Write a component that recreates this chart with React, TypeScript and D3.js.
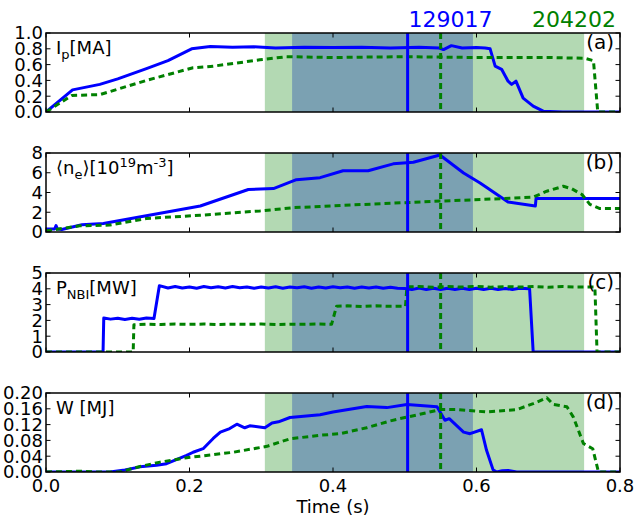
import React from "react";
import * as d3 from "d3";

// ---- figure geometry ----
const WIDTH = 634;
const HEIGHT = 519;
const X_LEFT = 46;
const X_RIGHT = 620;
const PANEL_TOPS = [33, 153, 273, 393];
const PANEL_H = 79;

// ---- shared annotations ----
const xTicks = [0, 0.2, 0.4, 0.6, 0.8];
const shotBlue = "129017";
const shotGreen = "204202";
const blueMarkT = 0.504;
const greenMarkT = 0.55;
const greenSpan: [number, number] = [0.305, 0.75];
const darkSpan: [number, number] = [0.343, 0.595];

// ---- (a) plasma current [MA] ----
const ip129017: [number, number][] = [
  [0, 0], [0.037, 0.28], [0.075, 0.35], [0.1, 0.42], [0.14, 0.55], [0.17, 0.65],
  [0.203, 0.8], [0.229, 0.83], [0.26, 0.82], [0.29, 0.825], [0.32, 0.81], [0.36, 0.82],
  [0.4, 0.815], [0.44, 0.82], [0.48, 0.81], [0.52, 0.82], [0.548, 0.81], [0.554, 0.79],
  [0.565, 0.84], [0.58, 0.81], [0.6, 0.815], [0.612, 0.81], [0.619, 0.8], [0.626, 0.58],
  [0.635, 0.54], [0.644, 0.39], [0.649, 0.35], [0.655, 0.39], [0.665, 0.175],
  [0.679, 0.075], [0.693, 0.01], [0.72, 0], [0.8, 0],
];
const ip204202: [number, number][] = [
  [0, 0], [0.036, 0.21], [0.075, 0.22], [0.14, 0.4], [0.205, 0.56], [0.233, 0.58],
  [0.298, 0.66], [0.335, 0.7], [0.4, 0.69], [0.5, 0.7], [0.6, 0.69], [0.7, 0.69],
  [0.751, 0.68], [0.763, 0.65], [0.769, 0], [0.8, 0],
];

// ---- (b) line-averaged density [1e19 m^-3] ----
const ne129017: [number, number][] = [
  [0, 0.3], [0.012, 0.3], [0.014, 0.65], [0.016, 0.3], [0.022, 0.25], [0.05, 0.73],
  [0.08, 0.87], [0.215, 2.63], [0.282, 4.3], [0.317, 4.4], [0.349, 5.3], [0.382, 5.5],
  [0.414, 6.2], [0.449, 6.2], [0.484, 6.9], [0.512, 7.07], [0.549, 7.8], [0.582, 5.97],
  [0.605, 4.97], [0.644, 3.03], [0.682, 2.63], [0.683, 3.4], [0.8, 3.4],
];
const ne204202: [number, number][] = [
  [0, 0.1], [0.047, 0.63], [0.089, 0.7], [0.14, 1.37], [0.215, 1.7], [0.298, 2.13],
  [0.345, 2.47], [0.382, 2.57], [0.414, 2.7], [0.549, 3.13], [0.633, 3.37], [0.679, 3.53],
  [0.698, 4.13], [0.721, 4.63], [0.733, 4.37], [0.747, 3.8], [0.758, 2.8], [0.772, 2.37],
  [0.8, 2.37],
];

// ---- (c) neutral beam power [MW] ----
const pnbi129017: [number, number][] = [
  [0, 0], [0.0795, 0], [0.0805, 2.15], [0.09, 2.08], [0.1, 2.14], [0.11, 2.06],
  [0.12, 2.13], [0.13, 2.07], [0.14, 2.15], [0.1505, 2.12], [0.158, 4.2], [0.17, 4.05],
  [0.18, 4.15], [0.19, 4.05], [0.2, 4.12], [0.21, 4.04], [0.22, 4.14], [0.23, 4.06],
  [0.24, 4.13], [0.25, 4.05], [0.26, 4.14], [0.27, 4.07], [0.28, 4.12], [0.29, 4.03],
  [0.3, 4.12], [0.31, 4.05], [0.32, 4.13], [0.33, 4.04], [0.34, 4.12], [0.35, 4.06],
  [0.36, 4.13], [0.37, 4.04], [0.38, 4.12], [0.39, 4.05], [0.4, 4.13], [0.41, 4.06],
  [0.42, 4.12], [0.43, 4.04], [0.44, 4.11], [0.45, 4.05], [0.46, 4.12], [0.47, 4.03],
  [0.48, 4.1], [0.49, 4.04], [0.5, 4.02], [0.51, 3.95], [0.52, 4.05], [0.53, 3.95],
  [0.54, 4.04], [0.55, 3.96], [0.56, 4.04], [0.57, 3.95], [0.58, 4.03], [0.59, 3.96],
  [0.6, 4.04], [0.61, 3.95], [0.62, 4.03], [0.63, 3.96], [0.64, 4.02], [0.65, 3.96],
  [0.66, 4.03], [0.674, 4.0], [0.679, 0], [0.8, 0],
];
const pnbi204202: [number, number][] = [
  [0, 0], [0.1215, 0], [0.1225, 1.72], [0.14, 1.76], [0.16, 1.74], [0.18, 1.77],
  [0.2, 1.75], [0.22, 1.77], [0.24, 1.74], [0.26, 1.76], [0.28, 1.75], [0.3, 1.77],
  [0.32, 1.74], [0.34, 1.76], [0.36, 1.75], [0.38, 1.77], [0.398, 1.75], [0.405, 2.9],
  [0.42, 2.92], [0.44, 2.88], [0.46, 2.92], [0.48, 2.89], [0.501, 2.9], [0.503, 4.12],
  [0.52, 4.15], [0.54, 4.1], [0.56, 4.14], [0.58, 4.11], [0.6, 4.15], [0.62, 4.1],
  [0.64, 4.14], [0.66, 4.11], [0.68, 4.15], [0.7, 4.1], [0.72, 4.14], [0.74, 4.11],
  [0.765, 4.12], [0.768, 0], [0.8, 0],
];

// ---- (d) stored energy [MJ] ----
const w129017: [number, number][] = [
  [0, 0], [0.089, 0], [0.11, 0.005], [0.131, 0.013], [0.154, 0.017], [0.168, 0.021],
  [0.196, 0.042], [0.205, 0.05], [0.219, 0.059], [0.233, 0.085], [0.243, 0.101],
  [0.256, 0.11], [0.266, 0.121], [0.277, 0.112], [0.284, 0.117], [0.305, 0.112],
  [0.315, 0.124], [0.324, 0.127], [0.34, 0.138], [0.382, 0.145], [0.4, 0.152],
  [0.447, 0.166], [0.475, 0.163], [0.503, 0.171], [0.545, 0.165], [0.556, 0.131],
  [0.562, 0.135], [0.582, 0.101], [0.591, 0.097], [0.607, 0.107], [0.614, 0.055],
  [0.623, 0.006], [0.628, 0], [0.636, 0.003], [0.644, 0.004], [0.656, 0], [0.8, 0],
];
const w204202: [number, number][] = [
  [0, 0], [0.05, 0.002], [0.07, 0], [0.103, 0], [0.131, 0.014], [0.159, 0.025],
  [0.196, 0.036], [0.261, 0.05], [0.308, 0.065], [0.34, 0.084], [0.382, 0.093],
  [0.41, 0.097], [0.447, 0.112], [0.479, 0.129], [0.493, 0.135], [0.521, 0.146],
  [0.549, 0.158], [0.572, 0.158], [0.614, 0.152], [0.656, 0.158], [0.679, 0.173],
  [0.698, 0.188], [0.707, 0.171], [0.726, 0.165], [0.735, 0.139], [0.749, 0.072],
  [0.762, 0.059], [0.77, 0], [0.8, 0],
];

const ipTicks = [0, 0.2, 0.4, 0.6, 0.8, 1.0];
const neTicks = [0, 2, 4, 6, 8];
const pnbiTicks = [0, 1, 2, 3, 4, 5];
const wTicks = [0, 0.04, 0.08, 0.12, 0.16, 0.2];

const BLUE = "#0000ff";
const GREEN = "#008000";
const SHADE_GREEN = "#b3d9b3";
const SHADE_DARK = "#7ba1b2";
const FONT = "DejaVu Sans, Bitstream Vera Sans, sans-serif";

type Panel = {
  tag: string;
  ticks: number[];
  fmt: (v: number) => string;
  label: React.ReactNode;
  blue: [number, number][];
  green: [number, number][];
};

const panels: Panel[] = [
  {
    tag: "(a)",
    ticks: ipTicks,
    fmt: d3.format(".1f"),
    label: (
      <>
        <tspan>I</tspan>
        <tspan dy={5} fontSize={13}>p</tspan>
        <tspan dy={-5}>[MA]</tspan>
      </>
    ),
    blue: ip129017,
    green: ip204202,
  },
  {
    tag: "(b)",
    ticks: neTicks,
    fmt: d3.format("d"),
    label: (
      <>
        <tspan>⟨n</tspan>
        <tspan dy={5} fontSize={13}>e</tspan>
        <tspan dy={-5}>⟩[10</tspan>
        <tspan dy={-7} fontSize={13}>19</tspan>
        <tspan dy={7}>m</tspan>
        <tspan dy={-7} fontSize={13}>-3</tspan>
        <tspan dy={7}>]</tspan>
      </>
    ),
    blue: ne129017,
    green: ne204202,
  },
  {
    tag: "(c)",
    ticks: pnbiTicks,
    fmt: d3.format("d"),
    label: (
      <>
        <tspan>P</tspan>
        <tspan dy={5} fontSize={13}>NBI</tspan>
        <tspan dy={-5}>[MW]</tspan>
      </>
    ),
    blue: pnbi129017,
    green: pnbi204202,
  },
  {
    tag: "(d)",
    ticks: wTicks,
    fmt: d3.format(".2f"),
    label: <tspan>W [MJ]</tspan>,
    blue: w129017,
    green: w204202,
  },
];

const x = d3.scaleLinear().domain([0, 0.8]).range([X_LEFT, X_RIGHT]);
const TICK = 4.5;

function PanelView({ p, i }: { p: Panel; i: number }) {
  const top = PANEL_TOPS[i];
  const bottom = top + PANEL_H;
  const yMax = p.ticks[p.ticks.length - 1];
  const y = d3.scaleLinear().domain([0, yMax]).range([bottom, top]);
  const line = d3
    .line<[number, number]>()
    .x((d) => x(d[0]))
    .y((d) => y(d[1]));
  const clipId = `clip-${i}`;
  const isLast = i === panels.length - 1;
  return (
    <g>
      <defs>
        <clipPath id={clipId}>
          <rect x={X_LEFT} y={top} width={X_RIGHT - X_LEFT} height={PANEL_H} />
        </clipPath>
      </defs>
      <g clipPath={`url(#${clipId})`}>
        <rect
          x={x(greenSpan[0])}
          y={top}
          width={x(greenSpan[1]) - x(greenSpan[0])}
          height={PANEL_H}
          fill={SHADE_GREEN}
        />
        <rect
          x={x(darkSpan[0])}
          y={top}
          width={x(darkSpan[1]) - x(darkSpan[0])}
          height={PANEL_H}
          fill={SHADE_DARK}
        />
        <path d={line(p.blue) ?? ""} fill="none" stroke={BLUE} strokeWidth={3} strokeLinejoin="round" />
        <path
          d={line(p.green) ?? ""}
          fill="none"
          stroke={GREEN}
          strokeWidth={3}
          strokeDasharray="6,4"
          strokeLinejoin="round"
        />
        <line x1={x(blueMarkT)} x2={x(blueMarkT)} y1={top} y2={bottom} stroke={BLUE} strokeWidth={3} />
        <line
          x1={x(greenMarkT)}
          x2={x(greenMarkT)}
          y1={top}
          y2={bottom}
          stroke={GREEN}
          strokeWidth={3}
          strokeDasharray="6,4"
        />
      </g>
      {/* ticks on all four sides, pointing inward */}
      {p.ticks.map((t) => (
        <g key={`y${t}`}>
          <line x1={X_LEFT} x2={X_LEFT + TICK} y1={y(t)} y2={y(t)} stroke="#000" strokeWidth={1} />
          <line x1={X_RIGHT} x2={X_RIGHT - TICK} y1={y(t)} y2={y(t)} stroke="#000" strokeWidth={1} />
          <text
            x={X_LEFT - 3}
            y={y(t)}
            dy="0.36em"
            textAnchor="end"
            fontSize={18}
            fontFamily={FONT}
            fill="#000"
          >
            {p.fmt(t)}
          </text>
        </g>
      ))}
      {xTicks.map((t) => (
        <g key={`x${t}`}>
          <line x1={x(t)} x2={x(t)} y1={top} y2={top + TICK} stroke="#000" strokeWidth={1} />
          <line x1={x(t)} x2={x(t)} y1={bottom} y2={bottom - TICK} stroke="#000" strokeWidth={1} />
          {isLast && (
            <text x={x(t)} y={bottom + 20} textAnchor="middle" fontSize={18} fontFamily={FONT} fill="#000">
              {d3.format(".1f")(t)}
            </text>
          )}
        </g>
      ))}
      <rect
        x={X_LEFT}
        y={top}
        width={X_RIGHT - X_LEFT}
        height={PANEL_H}
        fill="none"
        stroke="#000"
        strokeWidth={1.5}
      />
      <text x={56} y={top + 21} fontSize={18} fontFamily={FONT} fill="#000">
        {p.label}
      </text>
      <text x={614} y={top + 16} textAnchor="end" fontSize={20} fontFamily={FONT} fill="#000">
        {p.tag}
      </text>
    </g>
  );
}

export default function App() {
  return (
    <svg
      width={WIDTH}
      height={HEIGHT}
      viewBox={`0 0 ${WIDTH} ${HEIGHT}`}
      style={{ position: "absolute", left: 0, top: 0, display: "block", background: "#fff" }}
    >
      <rect width={WIDTH} height={HEIGHT} fill="#fff" />
      <text x={x(blueMarkT) + 1} y={27} fontSize={22} fontFamily={FONT} fill={BLUE}>
        {shotBlue}
      </text>
      <text x={616} y={27} textAnchor="end" fontSize={22} fontFamily={FONT} fill={GREEN}>
        {shotGreen}
      </text>
      {panels.map((p, i) => (
        <PanelView key={p.tag} p={p} i={i} />
      ))}
      <text
        x={(X_LEFT + X_RIGHT) / 2}
        y={513}
        textAnchor="middle"
        fontSize={18}
        fontFamily={FONT}
        fill="#000"
      >
        Time (s)
      </text>
    </svg>
  );
}
